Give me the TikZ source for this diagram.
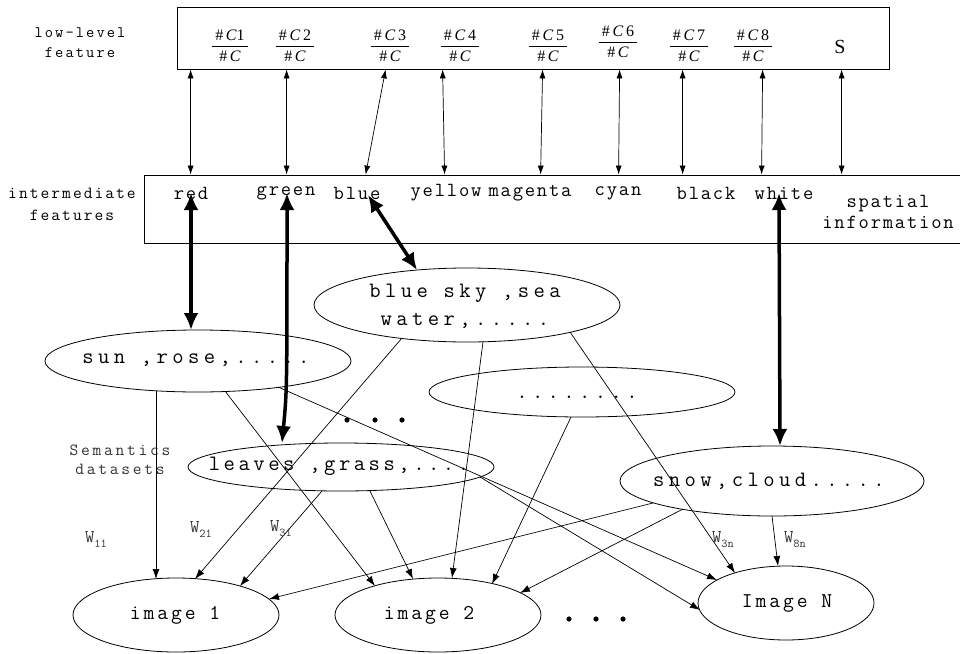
\documentclass[tikz,border=0pt]{standalone}
\usepackage{fontspec}
\usetikzlibrary{arrows.meta,shapes.geometric,calc}
\newfontfamily\lmm{Latin Modern Mono}
\newfontfamily\tms{Liberation Serif}
% spaced typewriter text: size, baselineskip, letter spacing
\newcommand\mfont[3]{\lmm\fontsize{#1}{#2}\selectfont\addfontfeature{LetterSpace=#3}}
% colour ratio #Ck / #C set as a small stacked fraction
\newcommand\colfrac[1]{{\tms\fontsize{16}{16}\selectfont\setlength\tabcolsep{3pt}\setlength\arrayrulewidth{0.8pt}%
  \begin{tabular}{c}\#\,\textit{C}#1\\\hline\rule{0pt}{15pt}\#\,\textit{C}\end{tabular}}}
\newcommand\wsub[2]{#1\raisebox{-5pt}{\fontsize{12}{12}\selectfont #2}}
\tikzset{
  box/.style={draw, rectangle, line width=0.8pt, inner sep=0pt},
  ell/.style={draw, ellipse, line width=0.8pt, inner sep=0pt},
  word/.style={font=\mfont{20}{21}{9}, inner sep=0pt, align=center},
  lbl/.style={font=\mfont{16}{20}{13}, inner sep=0pt, align=center},
  big/.style={font=\mfont{22}{28}{20}, inner sep=0pt, align=center},
  imgtext/.style={font=\mfont{21}{21}{14}, inner sep=0pt},
  wlbl/.style={font=\lmm\fontsize{18}{18}\selectfont, inner sep=0pt, text=black!80},
  link/.style={line width=0.7pt, {Latex[length=9pt,width=6pt]}-{Latex[length=9pt,width=6pt]}},
  feed/.style={line width=0.7pt, -{Latex[length=10pt,width=7pt]}},
  strong/.style={line width=3.5pt, {Latex[length=17pt,width=15pt]}-{Latex[length=17pt,width=15pt]}},
}
\begin{document}
\begin{tikzpicture}[x=1pt,y=-1pt]
\useasboundingbox (0,0) rectangle (960,653);

% ---- low-level feature box ----
\node[box, minimum width=712pt, minimum height=62pt] (low) at (533,38) {};
\node[lbl] (lowlbl) at (80,43) {low-level\\feature};
\node[inner sep=0pt] (c1) at (230,48) {\colfrac{1}};
\node[inner sep=0pt] (c2) at (295,48) {\colfrac{\,2}};
\node[inner sep=0pt] (c3) at (390,48) {\colfrac{\,3}};
\node[inner sep=0pt] (c4) at (460,48) {\colfrac{\,4}};
\node[inner sep=0pt] (c5) at (548,48) {\colfrac{\,5}};
\node[inner sep=0pt] (c6) at (618,44) {\colfrac{\,6}};
\node[inner sep=0pt] (c7) at (689,48) {\colfrac{\,7}};
\node[inner sep=0pt] (c8) at (753,48) {\colfrac{\,8}};
\node[inner sep=0pt, font=\tms\fontsize{20}{20}\selectfont] (sp) at (840,47) {S};

% ---- intermediate features box ----
\node[box, minimum width=821pt, minimum height=68pt] (mid) at (554.5,209) {};
\node[lbl, font=\mfont{17}{22}{12}] (intlbl) at (72,204) {intermediate\\features};
\node[word] (red) at (191,193) {red};
\node[word] (green) at (286,193) {green};
\node[word] (blue) at (357,193) {blue};
\node[word] (yellow) at (446,193) {yellow};
\node[word] (magenta) at (530,193) {magenta};
\node[word] (cyan) at (618,193) {cyan};
\node[word] (black) at (706,193) {black};
\node[word] (white) at (784,193) {white};
\node[word] (spatial) at (888,212) {spatial\\information};

% links between the two feature levels
\draw[link] ([xshift=14pt]low.south west) -- ([xshift=47pt]mid.north west);
\draw[link] ([xshift=110pt]low.south west) -- ([xshift=143pt]mid.north west);
\draw[link] ([xshift=209pt]low.south west) -- ([xshift=222pt]mid.north west);
\draw[link] ([xshift=266pt]low.south west) -- ([xshift=301pt]mid.north west);
\draw[link] ([xshift=366pt]low.south west) -- ([xshift=397pt]mid.north west);
\draw[link] ([xshift=443pt]low.south west) -- ([xshift=475pt]mid.north west);
\draw[link] ([xshift=506pt]low.south west) -- ([xshift=539pt]mid.north west);
\draw[link] ([xshift=586pt]low.south west) -- ([xshift=618pt]mid.north west);
\draw[link] ([xshift=665pt]low.south west) -- ([xshift=698pt]mid.north west);

% ---- semantic concept ellipses ----
\node[ell, minimum width=306pt, minimum height=74pt] (sky) at (467,305) {};
\node[big] (skyT) at (465,306) {blue sky ,sea\\water,.....};
\node[ell, minimum width=306pt, minimum height=62pt] (sun) at (198,361) {};
\node[big] (sunT) at (196,360) {sun ,rose,.....};
\node[ell, minimum width=306pt, minimum height=50pt] (etc) at (582,392) {};
\node[big] (etcT) at (577,397) {........};
\node[ell, minimum width=306pt, minimum height=48pt] (leaves) at (341,467) {};
\node[big, font=\mfont{22}{22}{16}] (leavesT) at (339,466) {leaves ,grass,....};
\node[ell, minimum width=304pt, minimum height=70pt] (snow) at (772,481) {};
\node[big] (snowT) at (769,481) {snow,cloud.....};
\node[lbl, font=\mfont{17}{19}{16}, text=black!80] (semlbl) at (120,460) {Semantics\\datasets};

% ---- images ----
\node[ell, minimum width=206pt, minimum height=74pt] (img1) at (176,615) {};
\node[imgtext] (img1T) at (175,615) {image 1};
\node[ell, minimum width=206pt, minimum height=74pt] (img2) at (438,615) {};
\node[imgtext] (img2T) at (429,615) {image 2};
\node[ell, minimum width=176pt, minimum height=74pt] (imgN) at (786,603) {};
\node[imgtext] (imgNT) at (787,603) {Image N};

% ---- thick links: colour words to concepts ----
\coordinate (redTip) at (191,193);
\coordinate (greenTip) at (287,193);
\coordinate (blueTip) at (368,195);
\coordinate (whiteTip) at (779,193);
\draw[strong] (redTip) -- ([shift={(-7,-31)}]sun.center);
\draw[strong] (greenTip) .. controls (287,390) .. ([shift={(-59,-24)}]leaves.center);
\draw[strong] (blueTip) -- ([shift={(-50,-35)}]sky.center);
\draw[strong] (whiteTip) -- ([shift={(8,-35)}]snow.center);

% ---- weighted links: concepts to images ----
\draw[feed] ([shift={(-42,30)}]sun.center) -- ([shift={(-20,-36)}]img1.center);
\draw[feed] ([shift={(27,30)}]sun.center) -- ([shift={(-63,-29)}]img2.center);
\draw[feed] ([shift={(80,26)}]sun.center) -- ([shift={(-69,-23)}]imgN.center);
\draw[feed] ([shift={(-65,33)}]sky.center) -- ([shift={(19,-36)}]img1.center);
\draw[feed] ([shift={(16,37)}]sky.center) -- ([shift={(14,-37)}]img2.center);
\draw[feed] ([shift={(103,27)}]sky.center) -- ([shift={(-51,-30)}]imgN.center);
\draw[feed] ([shift={(-19,24)}]leaves.center) -- ([shift={(64,-29)}]img1.center);
\draw[feed] ([shift={(29,24)}]leaves.center) -- ([shift={(-25,-36)}]img2.center);
\draw[feed] ([shift={(139,10)}]leaves.center) -- ([shift={(-86,7)}]imgN.center);
\draw[feed] ([shift={(-11,25)}]etc.center) -- ([shift={(54,-31)}]img2.center);
\draw[feed] ([shift={(-119,22)}]snow.center) -- ([shift={(93,-16)}]img1.center);
\draw[feed] ([shift={(-89,28)}]snow.center) -- ([shift={(82,-22)}]img2.center);
\draw[feed] ([shift={(0,35)}]snow.center) -- ([shift={(-8,-37)}]imgN.center);

% weight labels
\node[wlbl] (w11) at (96,539) {\wsub{W}{11}};
\node[wlbl] (w21) at (201,529) {\wsub{W}{21}};
\node[wlbl] (w31) at (281,529) {\wsub{W}{31}};
\node[wlbl] (w3n) at (723,540) {\wsub{W}{3n}};
\node[wlbl] (w8n) at (795,540) {\wsub{W}{8n}};

% ellipsis dots
\foreach \x in {347,375,402} \fill (\x,420) circle (2.6);
\foreach \x in {569,596,623} \fill (\x,619) circle (2.6);
\end{tikzpicture}
\end{document}
